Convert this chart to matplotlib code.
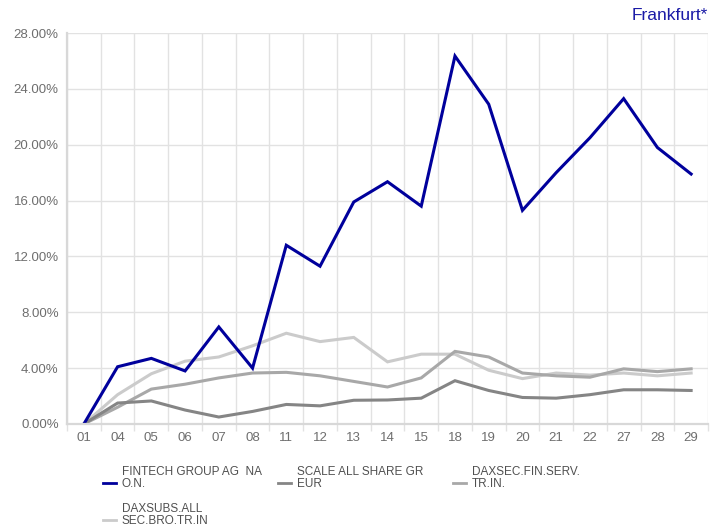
import numpy as np
import matplotlib.pyplot as plt
from matplotlib.lines import Line2D
from matplotlib.ticker import FuncFormatter

plt.rcParams["font.family"] = ["Liberation Sans", "DejaVu Sans"]

days = ["01", "04", "05", "06", "07", "08", "11", "12", "13", "14",
        "15", "18", "19", "20", "21", "22", "27", "28", "29"]

fintech = [0.0, 4.1, 4.7, 3.8, 6.95, 4.0, 12.8, 11.3, 15.9, 17.35,
           15.6, 26.35, 22.9, 15.3, 18.0, 20.5, 23.3, 19.8, 17.9]
scale = [0.0, 1.5, 1.65, 1.0, 0.5, 0.9, 1.4, 1.3, 1.7, 1.72,
         1.85, 3.1, 2.4, 1.9, 1.85, 2.1, 2.45, 2.45, 2.4]
finserv = [0.0, 1.2, 2.5, 2.85, 3.3, 3.65, 3.7, 3.45, 3.05, 2.65,
           3.3, 5.2, 4.8, 3.65, 3.45, 3.35, 3.95, 3.75, 3.95]
daxsubs = [0.0, 2.1, 3.6, 4.5, 4.8, 5.6, 6.5, 5.9, 6.2, 4.45,
           5.0, 5.0, 3.85, 3.25, 3.65, 3.5, 3.65, 3.45, 3.65]

series = [
    ("FINTECH GROUP AG  NA\nO.N.", fintech, "#00009c"),
    ("SCALE ALL SHARE GR\nEUR", scale, "#858585"),
    ("DAXSEC.FIN.SERV.\nTR.IN.", finserv, "#a8a8a8"),
    ("DAXSUBS.ALL\nSEC.BRO.TR.IN", daxsubs, "#cbcbcb"),
]

W, H = 717, 529
fig = plt.figure(figsize=(W / 100, H / 100), dpi=100)
ax = fig.add_axes([67 / W, (H - 424) / H, 641 / W, 391 / H])

x = np.arange(len(days))
# draw light lines first so the blue one sits on top
for label, vals, color in reversed(series):
    ax.plot(x, vals, color=color, lw=2.2, solid_joinstyle="miter")

ax.set_xlim(-0.5, len(days) - 0.5)
ax.set_ylim(0, 28)
ax.set_xticks(x)
ax.set_xticklabels(days)
ax.set_xticks(np.arange(-0.5, len(days)), minor=True)
ax.set_yticks(np.arange(0, 29, 4))
ax.yaxis.set_major_formatter(FuncFormatter(lambda v, p: f"{v:.2f}%"))

ax.grid(axis="y", color="#e2e2e2", lw=1.0)
ax.grid(axis="x", which="minor", color="#e2e2e2", lw=1.0)
ax.set_axisbelow(True)
ax.tick_params(axis="x", which="major", length=0, pad=6, labelsize=9.5,
               labelcolor="#6e6e6e")
ax.tick_params(axis="x", which="minor", length=5, color="#e2e2e2", width=1.0)
ax.tick_params(axis="y", length=0, pad=6, labelsize=9.5, labelcolor="#6e6e6e")

for s in ["top", "right"]:
    ax.spines[s].set_visible(False)
for s in ["left", "bottom"]:
    ax.spines[s].set_color("#d8d8d8")
    ax.spines[s].set_linewidth(1.6)

fig.text(708 / W, 1 - 15 / H, "Frankfurt*", color="#1a1aa6", fontsize=12.5,
         ha="right", va="center")

# legend, laid out like the source (three columns, wrapped labels)
slots = [(103, 478), (278, 478), (453, 478), (103, 515)]
for (label, vals, color), (lx, ly) in zip(series, slots):
    yy = 1 - (ly + 5) / H
    fig.add_artist(Line2D([lx / W, (lx + 13) / W], [yy, yy],
                          color=color, lw=2.0, transform=fig.transFigure))
    fig.text((lx + 19) / W, 1 - ly / H, label, fontsize=8.5,
             color="#505050", ha="left", va="center", linespacing=1.0)

fig.savefig("out.png", dpi=100)
